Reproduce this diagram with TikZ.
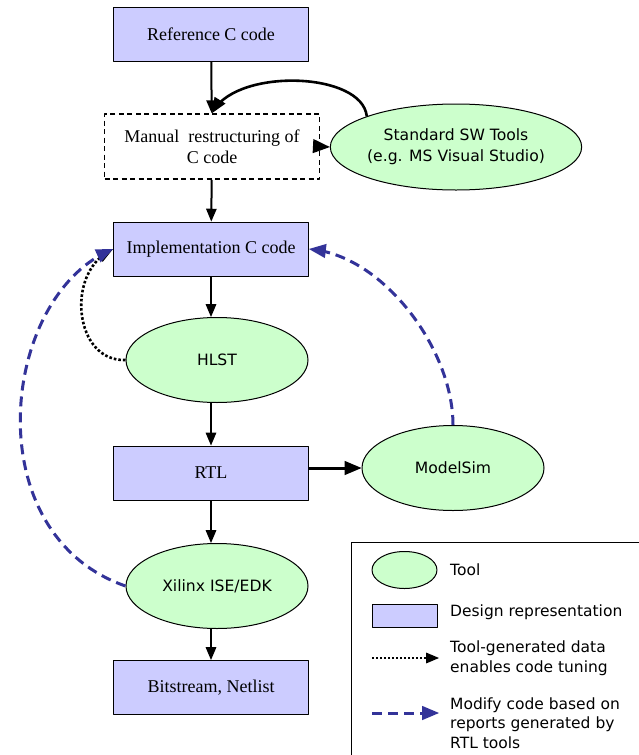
\documentclass[tikz,border=0pt]{standalone}
\usepackage{fontspec}
\setmainfont{Liberation Serif}
\newfontfamily\toolfont{DejaVu Sans}
\usepackage{tikz}
\tikzset{>=latex}
\usetikzlibrary{shapes,arrows}
\usetikzlibrary{calc}
\definecolor{reprfill}{HTML}{CCCCFF}
\definecolor{toolfill}{HTML}{CCFFCC}
\definecolor{tunblue}{HTML}{333399}
\tikzset{
  repr/.style={draw=black,fill=reprfill,line width=1pt,minimum width=195pt,minimum height=54pt,inner sep=0pt,font=\fontsize{18}{21}\selectfont},
  tool/.style={ellipse,draw=black,fill=toolfill,line width=1pt,minimum width=182pt,minimum height=85pt,inner sep=0pt,font=\toolfont\fontsize{15.6}{21}\selectfont,align=center},
  flow/.style={->,line width=2pt},
  fatflow/.style={->,line width=3pt},
  tuning/.style={->,dotted,line width=2.6pt},
  rtlback/.style={->,color=tunblue,line width=3pt,dash pattern=on 10pt off 6pt},
  legtext/.style={anchor=west,align=left,inner sep=0pt,font=\toolfont\fontsize{15.5}{19.5}\selectfont}
}
\begin{document}
\begin{tikzpicture}[line cap=butt,line join=round,>=triangle 45,x=1pt,y=-1pt]
			\useasboundingbox (0,0) rectangle (639,755);
			% main flow
			\node[repr] (refc) at (211,34) {Reference C code};
			\node[draw=black,dash pattern=on 5pt off 3.5pt,line width=1.8pt,minimum width=215pt,minimum height=65pt,inner sep=0pt,align=center,font=\fontsize{18}{21}\selectfont] (manual) at (212,146.5) {Manual\ \ restructuring of\\C code};
			\node[tool] (swtools) at (456,147) [minimum width=234pt,minimum height=86pt] {Standard SW Tools\\(e.g. MS Visual Studio)};
			\node[repr] (implc) at (211,249) {Implementation C code};
			\node[tool] (hlst) at (217,360) {HLST};
			\node[repr] (rtl) at (211,473) {RTL};
			\node[tool] (modelsim) at (453,468) {ModelSim};
			\node[tool] (xilinx) at (217,586) {Xilinx ISE/EDK};
			\node[repr] (bits) at (211,687.5) {Bitstream, Netlist};
			\draw[flow] (refc) -- (manual);
			\draw[flow,line width=2.6pt] (swtools.north west) .. controls (362,72) and (240,68) .. (manual.north);
			\draw[fatflow] (manual.east) -- (swtools.west);
			\draw[flow] (manual) -- (implc);
			\draw[flow] (implc) -- (implc|-hlst.north);
			\draw[flow] (hlst.south-|rtl) -- (rtl);
			\draw[flow] (rtl) -- (rtl|-xilinx.north);
			\draw[flow] (xilinx.south-|bits) -- (bits);
			\draw[fatflow] (rtl.east|-modelsim) -- (modelsim.west);
			% feedback loops
			\draw[tuning] (hlst.west) .. controls (75,362) and (65,275) .. (implc.west);
			\draw[rtlback] (xilinx.west) .. controls (-24,534) and (0,300) .. (implc.west);
			\draw[rtlback] (modelsim.north) .. controls (453,350) and (385,258) .. (implc.east);
			% legend
			\draw[line width=0.8pt] (351,542) rectangle (650,765);
			\node[ellipse,draw=black,fill=toolfill,line width=1pt,minimum width=65pt,minimum height=37pt,inner sep=0pt] (legtool) at (404.5,570) {};
			\node[legtext] (ltool) at (450,570) {Tool};
			\node[draw=black,fill=reprfill,line width=1pt,minimum width=65pt,minimum height=23pt,inner sep=0pt] (legrepr) at (404.5,615.5) {};
			\node[legtext] (lrepr) at (450,612) {Design representation};
			\coordinate (tunA) at (372,658);
			\coordinate (tunB) at (439,658);
			\draw[tuning,line width=2pt] (tunA) -- (tunB);
			\node[legtext] (ltun) at (450,658) {Tool-generated data\\enables code tuning};
			\coordinate (backA) at (372,713);
			\coordinate (backB) at (439,713);
			\draw[rtlback] (backA) -- (backB);
			\node[legtext] (lback) at (450,723) {Modify code based on\\reports generated by\\RTL tools};
\end{tikzpicture}
\end{document}
